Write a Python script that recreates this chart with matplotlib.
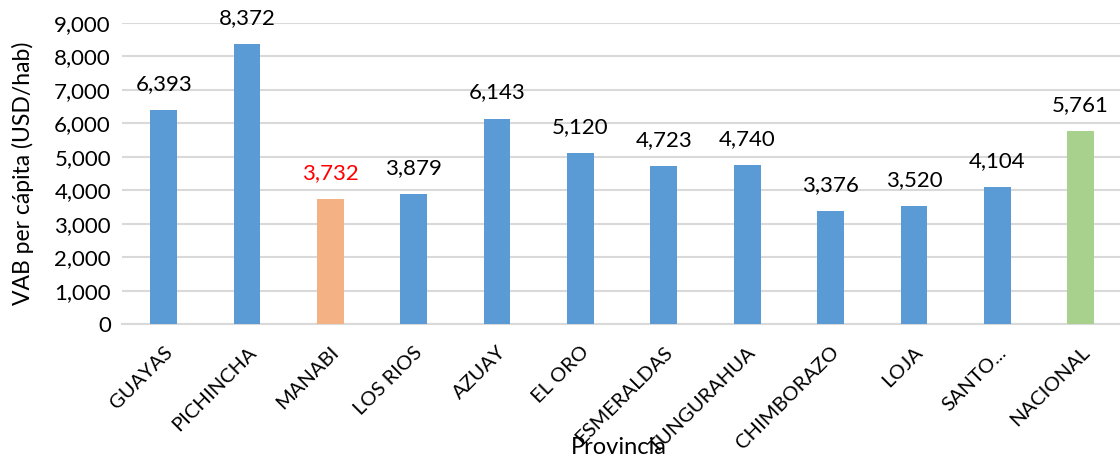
import matplotlib
matplotlib.use("Agg")
import matplotlib.pyplot as plt
from matplotlib.ticker import FuncFormatter

# datos del grafico
provincias = ["GUAYAS", "PICHINCHA", "MANABI", "LOS RIOS", "AZUAY", "EL ORO",
              "ESMERALDAS", "TUNGURAHUA", "CHIMBORAZO", "LOJA", "SANTO...", "NACIONAL"]
vab = [6393, 8372, 3732, 3879, 6143, 5120, 4723, 4740, 3376, 3520, 4104, 5761]
colores = ["#5B9BD5"] * 12
colores[2] = "#F4B183"
colores[11] = "#A9D18E"
col_texto = ["black"] * 12
col_texto[2] = "red"

plt.rcParams["font.family"] = ["Lato", "DejaVu Sans"]

fig = plt.figure(figsize=(11.2, 4.59), dpi=100)
ax = fig.add_axes([0.109, 0.294, 0.893, 0.656])

x = range(len(provincias))
ax.bar(x, vab, width=0.32, color=colores, zorder=3)

for i in x:
    ax.text(i, vab[i] + 480, f"{vab[i]:,}", ha="center", va="bottom",
            fontsize=16, color=col_texto[i])

ax.set_ylim(0, 9000)
ax.set_xlim(-0.5, 11.5)
ax.set_yticks(range(0, 9001, 1000))
ax.yaxis.set_major_formatter(FuncFormatter(lambda v, p: f"{int(v):,}"))
ax.grid(axis="y", color="#d9d9d9", linewidth=1.5, zorder=0)
ax.set_xticks(list(x))
ax.set_xticklabels(provincias, rotation=45, ha="right", rotation_mode="anchor", fontsize=14.5)
ax.tick_params(axis="y", labelsize=16, length=0, pad=8)
ax.tick_params(axis="x", length=0, pad=14)
for s in ["top", "right", "left"]:
    ax.spines[s].set_visible(False)
ax.spines["bottom"].set_color("#d9d9d9")
ax.spines["bottom"].set_linewidth(1.5)

ax.set_ylabel("VAB per cápita (USD/hab)", fontsize=16.5)
ax.yaxis.set_label_coords(-0.088, 0.5)
ax.set_xlabel("Provincia", fontsize=17)
ax.xaxis.set_label_coords(0.497, -0.375)

fig.savefig("out.png", dpi=100)
